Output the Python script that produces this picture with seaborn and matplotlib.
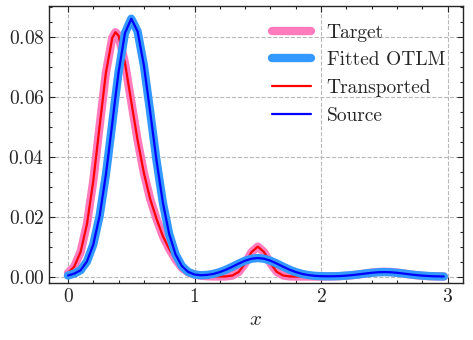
import numpy as np
import pandas as pd
import matplotlib
matplotlib.use("Agg")
import matplotlib.pyplot as plt
from matplotlib.ticker import MultipleLocator
import seaborn as sns

# Sample positions on the x axis
x_vals = [0.00, 0.05, 0.10, 0.15, 0.20, 0.25, 0.30, 0.35, 0.375, 0.40,
          0.45, 0.50, 0.55, 0.60, 0.65, 0.70, 0.75, 0.80, 0.85, 0.90,
          0.95, 1.00, 1.05, 1.10, 1.15, 1.20, 1.25, 1.30, 1.35, 1.40,
          1.45, 1.50, 1.55, 1.60, 1.65, 1.70, 1.75, 1.80, 1.85, 1.90,
          1.95, 2.00, 2.05, 2.10, 2.15, 2.20, 2.25, 2.30, 2.35, 2.40,
          2.45, 2.50, 2.55, 2.60, 2.65, 2.70, 2.75, 2.80, 2.85, 2.90,
          2.95, 2.97]

# Target / transported density
target = [0.00119, 0.00338, 0.00828, 0.01751, 0.03192, 0.05020, 0.06808, 0.07963, 0.08149, 0.08034,
          0.07132, 0.05839, 0.04553, 0.03453, 0.02582, 0.01921, 0.01350, 0.00920, 0.00570, 0.00290,
          0.00140, 0.00065, 0.00029, 0.00012, 0.00005, 0.00002, 0.00006, 0.00037, 0.00157, 0.00440,
          0.00814, 0.01000, 0.00814, 0.00440, 0.00157, 0.00037, 0.00006, 0.00001, 0.00001, 0.00001,
          0.00001, 0.00001, 0.00003, 0.00007, 0.00015, 0.00028, 0.00047, 0.00073, 0.00103, 0.00132,
          0.00152, 0.00160, 0.00152, 0.00132, 0.00103, 0.00073, 0.00047, 0.00028, 0.00015, 0.00007,
          0.00003, 0.00002]
transported = list(target)

# Source / fitted OTLM density
source = [0.00035, 0.00100, 0.00212, 0.00505, 0.01072, 0.02025, 0.03408, 0.05110, 0.05990, 0.06823,
          0.08117, 0.08600, 0.08180, 0.07039, 0.05480, 0.03860, 0.02460, 0.01418, 0.00740, 0.00351,
          0.00154, 0.00070, 0.00045, 0.00056, 0.00090, 0.00150, 0.00231, 0.00330, 0.00435, 0.00530,
          0.00596, 0.00620, 0.00596, 0.00530, 0.00435, 0.00330, 0.00231, 0.00150, 0.00090, 0.00050,
          0.00025, 0.00014, 0.00010, 0.00011, 0.00018, 0.00032, 0.00051, 0.00075, 0.00102, 0.00126,
          0.00144, 0.00150, 0.00144, 0.00126, 0.00102, 0.00075, 0.00051, 0.00032, 0.00018, 0.00009,
          0.00005, 0.00004]
fitted = list(source)

df = pd.DataFrame({"x": x_vals, "Target": target, "Fitted OTLM": fitted,
                   "Transported": transported, "Source": source})

sns.set_style("ticks")
plt.rcParams["font.family"] = "serif"
plt.rcParams["font.serif"] = ["cmr10", "DejaVu Serif"]
plt.rcParams["mathtext.fontset"] = "cm"
plt.rcParams["axes.formatter.use_mathtext"] = True
plt.rcParams["font.size"] = 14

fig, ax = plt.subplots(figsize=(4.73, 3.40), dpi=100)
fig.subplots_adjust(left=0.104, right=0.978, top=0.982, bottom=0.168)

l_t = sns.lineplot(data=df, x="x", y="Target", ax=ax, color="#ff7bbd", lw=6, label="Target", zorder=2)
l_tr = sns.lineplot(data=df, x="x", y="Transported", ax=ax, color="#ff0000", lw=1.6, label="Transported", zorder=3)
l_f = sns.lineplot(data=df, x="x", y="Fitted OTLM", ax=ax, color="#3399ff", lw=6, label="Fitted OTLM", zorder=4)
l_s = sns.lineplot(data=df, x="x", y="Source", ax=ax, color="#0000ff", lw=1.6, label="Source", zorder=5)

handles, labels = ax.get_legend_handles_labels()
order = ["Target", "Fitted OTLM", "Transported", "Source"]
hmap = dict(zip(labels, handles))
ax.legend([hmap[k] for k in order], order, loc="upper right", frameon=False, fontsize=14)

ax.set_xlim(-0.1485, 3.1185)
ax.set_ylim(-0.0021, 0.0902)
ax.set_xlabel("$x$", fontsize=15)
ax.set_ylabel("")
ax.xaxis.set_major_locator(MultipleLocator(1))
ax.xaxis.set_minor_locator(MultipleLocator(0.2))
ax.yaxis.set_major_locator(MultipleLocator(0.02))
ax.yaxis.set_minor_locator(MultipleLocator(0.005))
ax.tick_params(which="both", direction="in", top=True, right=True, width=0.8)
ax.tick_params(which="major", length=4.5)
ax.tick_params(which="minor", length=2.3)
for s in ax.spines.values():
    s.set_linewidth(1.0)
ax.grid(True, which="major", linestyle="--", color="#b8b8b8", linewidth=0.8)
ax.set_axisbelow(True)

plt.savefig("out.png", dpi=100)
